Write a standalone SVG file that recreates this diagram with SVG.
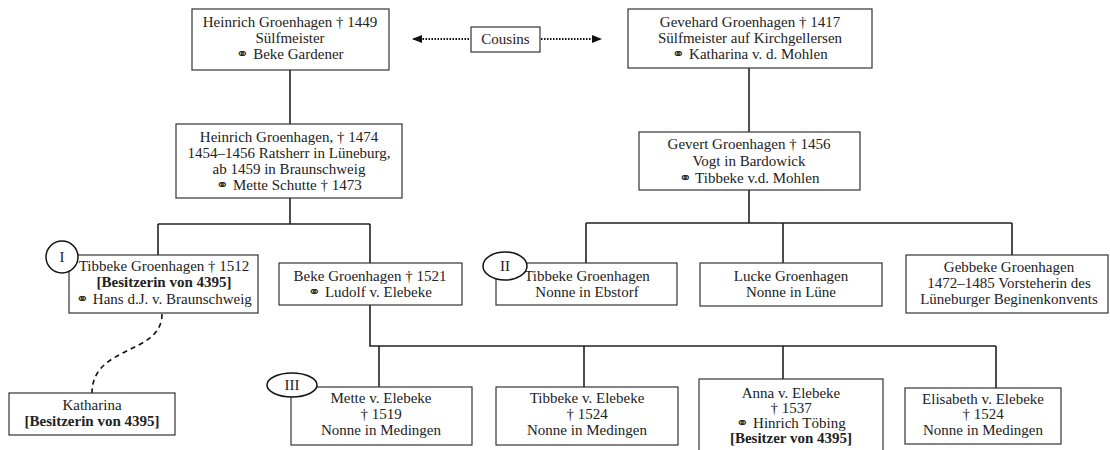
<svg xmlns="http://www.w3.org/2000/svg" width="1110" height="450" viewBox="0 0 1110 450">
<defs>
<style>
.box{fill:#fff;stroke:#333;stroke-width:1.2}
.mark{fill:#fff;stroke:#111;stroke-width:1.5}
.t{font-family:"Liberation Serif","DejaVu Serif",serif;font-size:15px;fill:#222;text-anchor:middle}
.b{font-weight:bold}
.ln{fill:none;stroke:#222;stroke-width:1.6}
.dot{fill:none;stroke:#111;stroke-width:2;stroke-dasharray:1.5 1.5}
.dash{fill:none;stroke:#111;stroke-width:1.6;stroke-dasharray:5 4}
</style>
<marker id="ah" viewBox="0 0 10 10" refX="9" refY="5" markerWidth="10" markerHeight="10" markerUnits="userSpaceOnUse" orient="auto-start-reverse">
<path d="M0,1 L10,5 L0,9 Z" fill="#111"/>
</marker>
</defs>
<rect width="1110" height="450" fill="#fff"/>

<g id="connectors">
<path class="ln" d="M290,70 V124"/>
<path class="ln" d="M749,68 V132"/>
<path class="ln" d="M290,198 V224 M158,224 H370 M158,224 V255 M370,224 V263"/>
<path class="ln" d="M749,190 V223 M586,223 H1012 M586,223 V263 M783,223 V263 M1012,223 V255"/>
<path class="ln" d="M370,305 V346 H996 M379,346 V387 M584,346 V387 M783,346 V379 M996,346 V388"/>
<path class="dot" d="M469,39 H413" marker-end="url(#ah)"/>
<path class="dot" d="M541,39 H601" marker-end="url(#ah)"/>
<path class="dash" d="M162,314 C162,355 92,345 92,393"/>
</g>

<g id="n-heinrich1449">
<rect class="box" x="192" y="9" width="197" height="61"/>
<text class="t" x="290" y="27">Heinrich Groenhagen † 1449</text>
<text class="t" x="290" y="43">Sülfmeister</text>
<text class="t" x="290" y="59">⚭ Beke Gardener</text>
</g>
<g id="n-cousins">
<rect class="box" x="471" y="27" width="69" height="25"/>
<text class="t" x="505.5" y="44">Cousins</text>
</g>
<g id="n-gevehard">
<rect class="box" x="628" y="9" width="244" height="59"/>
<text class="t" x="750" y="27">Gevehard Groenhagen † 1417</text>
<text class="t" x="750" y="43">Sülfmeister auf Kirchgellersen</text>
<text class="t" x="750" y="59">⚭ Katharina v. d. Mohlen</text>
</g>
<g id="n-heinrich1474">
<rect class="box" x="176" y="124" width="226" height="74"/>
<text class="t" x="289" y="142">Heinrich Groenhagen, † 1474</text>
<text class="t" x="289" y="158">1454–1456 Ratsherr in Lüneburg,</text>
<text class="t" x="289" y="174">ab 1459 in Braunschweig</text>
<text class="t" x="289" y="190">⚭ Mette Schutte † 1473</text>
</g>
<g id="n-gevert">
<rect class="box" x="639" y="132" width="221" height="58"/>
<text class="t" x="749" y="149">Gevert Groenhagen † 1456</text>
<text class="t" x="749" y="166">Vogt in Bardowick</text>
<text class="t" x="749" y="183">⚭ Tibbeke v.d. Mohlen</text>
</g>
<g id="n-tibbeke1512">
<rect class="box" x="69" y="255" width="189" height="58"/>
<text class="t" x="164" y="271">Tibbeke Groenhagen † 1512</text>
<text class="t b" x="164" y="287">[Besitzerin von 4395]</text>
<text class="t" x="164" y="304">⚭ Hans d.J. v. Braunschweig</text>
<circle class="mark" cx="62" cy="257" r="16"/>
<text class="t" x="62" y="262">I</text>
</g>
<g id="n-beke">
<rect class="box" x="279" y="263" width="183" height="42"/>
<text class="t" x="370" y="281">Beke Groenhagen † 1521</text>
<text class="t" x="370" y="297">⚭ Ludolf v. Elebeke</text>
</g>
<g id="n-tibbeke-ebstorf">
<rect class="box" x="496" y="263" width="181" height="42"/>
<text class="t" x="587" y="281">Tibbeke Groenhagen</text>
<text class="t" x="587" y="297">Nonne in Ebstorf</text>
<ellipse class="mark" cx="505" cy="266" rx="22" ry="14"/>
<text class="t" x="505" y="271">II</text>
</g>
<g id="n-lucke">
<rect class="box" x="700" y="263" width="182" height="43"/>
<text class="t" x="791" y="281">Lucke Groenhagen</text>
<text class="t" x="791" y="297">Nonne in Lüne</text>
</g>
<g id="n-gebbeke">
<rect class="box" x="906" y="255" width="202" height="58"/>
<text class="t" x="1009" y="272">Gebbeke Groenhagen</text>
<text class="t" x="1009" y="288">1472–1485 Vorsteherin des</text>
<text class="t" x="1009" y="304">Lüneburger Beginenkonvents</text>
</g>
<g id="n-katharina">
<rect class="box" x="9" y="393" width="166" height="42"/>
<text class="t" x="92" y="410">Katharina</text>
<text class="t b" x="92" y="426">[Besitzerin von 4395]</text>
</g>
<g id="n-mette">
<rect class="box" x="291" y="387" width="181" height="58"/>
<text class="t" x="381" y="403">Mette v. Elebeke</text>
<text class="t" x="381" y="419">† 1519</text>
<text class="t" x="381" y="435">Nonne in Medingen</text>
<ellipse class="mark" cx="292" cy="385" rx="25" ry="12"/>
<text class="t" x="292" y="390">III</text>
</g>
<g id="n-tibbeke-elebeke">
<rect class="box" x="496" y="387" width="182" height="58"/>
<text class="t" x="587" y="403">Tibbeke v. Elebeke</text>
<text class="t" x="587" y="419">† 1524</text>
<text class="t" x="587" y="435">Nonne in Medingen</text>
</g>
<g id="n-anna">
<rect class="box" x="699" y="379" width="184" height="80"/>
<text class="t" x="791" y="398">Anna v. Elebeke</text>
<text class="t" x="791" y="413">† 1537</text>
<text class="t" x="791" y="428">⚭ Hinrich Töbing</text>
<text class="t b" x="791" y="443">[Besitzer von 4395]</text>
</g>
<g id="n-elisabeth">
<rect class="box" x="905" y="388" width="156" height="56"/>
<text class="t" x="983" y="404">Elisabeth v. Elebeke</text>
<text class="t" x="983" y="419">† 1524</text>
<text class="t" x="983" y="435">Nonne in Medingen</text>
</g>
</svg>
